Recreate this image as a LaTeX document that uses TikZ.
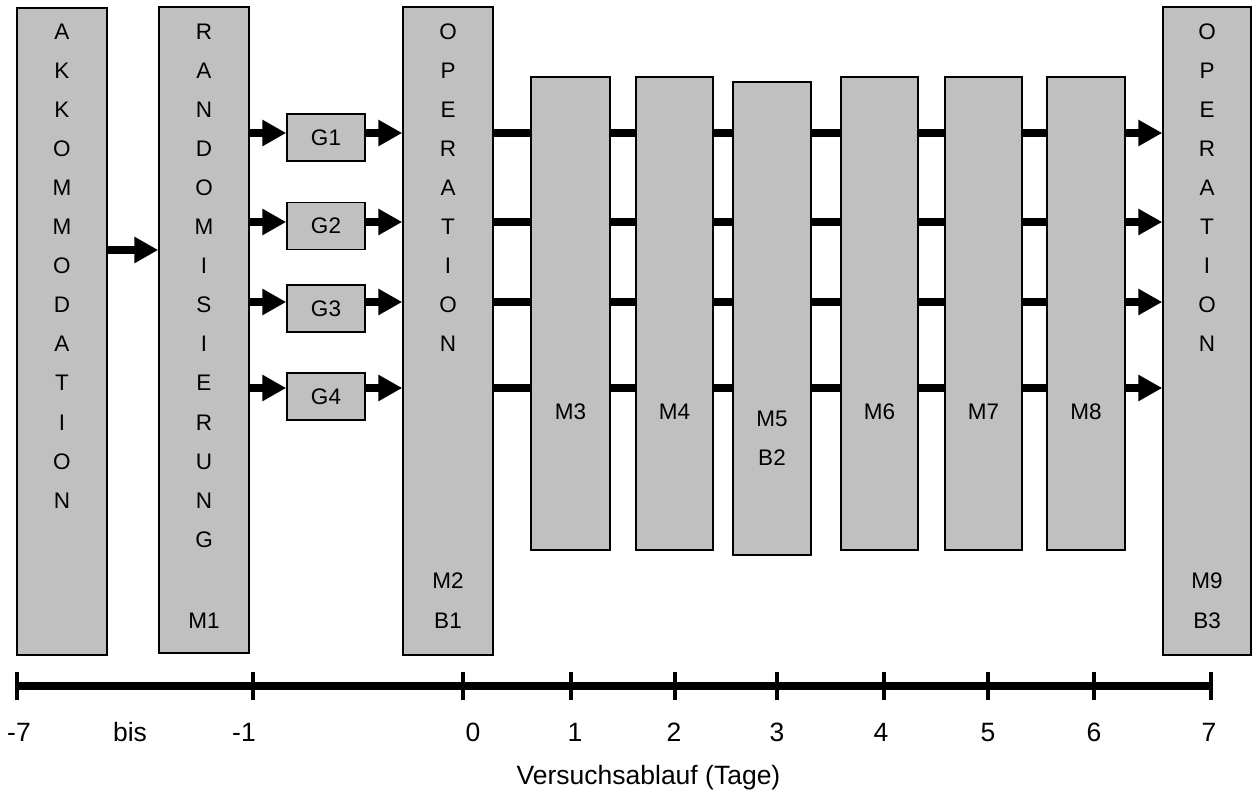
\documentclass[tikz,border=0pt]{standalone}
\usepackage{fontspec}
\setmainfont{Liberation Sans}
\usetikzlibrary{arrows.meta}
\definecolor{boxgray}{RGB}{192,192,192}
\begin{document}
\begin{tikzpicture}[x=1pt,y=-1pt,
  box/.style={draw=black, line width=1.5pt, fill=boxgray, inner sep=0pt},
  lbl/.style={font=\fontsize{22.5}{27}\selectfont, inner sep=0pt, text height=16pt, text depth=0pt},
  axlbl/.style={font=\fontsize{26.5}{31}\selectfont, inner sep=0pt, text height=19pt, text depth=0pt},
  flow/.style={line width=8pt, -{Triangle[length=24pt,width=25pt]}},
  link/.style={line width=8pt},
  tick/.style={line width=4.5pt},
  axis/.style={line width=8pt}]
\useasboundingbox (0,0) rectangle (1253,791);

% tall boxes
\node[box, minimum width=90pt, minimum height=647pt] (akk) at (62,331.5) {};
\node[box, minimum width=90pt, minimum height=646pt] (rand) at (204,330) {};
\node[box, minimum width=90pt, minimum height=648pt] (op1) at (448,331) {};
\node[box, minimum width=88pt, minimum height=648pt] (op2) at (1207,331) {};

% group boxes
\node[box, minimum width=78pt, minimum height=47pt] (g1) at (326,137.5) {};
\node[box, minimum width=78pt, minimum height=47pt] (g2) at (326,226) {};
\node[box, minimum width=78pt, minimum height=47pt] (g3) at (326,308.5) {};
\node[box, minimum width=78pt, minimum height=47pt] (g4) at (326,396.5) {};
\node[lbl] (g1t) at (g1) {G1};
\node[lbl] (g2t) at (g2) {G2};
\node[lbl] (g3t) at (g3) {G3};
\node[lbl] (g4t) at (g4) {G4};

% measurement boxes
\node[box, minimum width=79pt, minimum height=473pt] (m3) at (570.5,313.5) {};
\node[box, minimum width=77pt, minimum height=473pt] (m4) at (674.5,313.5) {};
\node[box, minimum width=78pt, minimum height=473pt] (m5) at (772,318.5) {};
\node[box, minimum width=77pt, minimum height=473pt] (m6) at (879.5,313.5) {};
\node[box, minimum width=77pt, minimum height=473pt] (m7) at (983.5,313.5) {};
\node[box, minimum width=78pt, minimum height=473pt] (m8) at (1086,313.5) {};

% vertical letters
\foreach [count=\i] \l in {A,K,K,O,M,M,O,D,A,T,I,O,N}
  \node[lbl] (akk-\i) at (62,{32+39*(\i-1)}) {\l};
\foreach [count=\i] \l in {R,A,N,D,O,M,I,S,I,E,R,U,N,G}
  \node[lbl] (rand-\i) at (204,{32+39*(\i-1)}) {\l};
\foreach [count=\i] \l in {O,P,E,R,A,T,I,O,N} {
  \node[lbl] (opa-\i) at (448,{32+39*(\i-1)}) {\l};
  \node[lbl] (opb-\i) at (1207,{32+39*(\i-1)}) {\l};
}

% box labels
\node[lbl] (m1t) at (204,620) {M1};
\node[lbl] (m2t) at (448,580) {M2};
\node[lbl] (b1t) at (448,620) {B1};
\node[lbl] (m9t) at (1207,580) {M9};
\node[lbl] (b3t) at (1207,620) {B3};
\node[lbl] (m3t) at (570.5,412) {M3};
\node[lbl] (m4t) at (674.5,412) {M4};
\node[lbl] (m5t) at (772,418) {M5};
\node[lbl] (b2t) at (772,457) {B2};
\node[lbl] (m6t) at (879.5,412) {M6};
\node[lbl] (m7t) at (983.5,412) {M7};
\node[lbl] (m8t) at (1086,412) {M8};

% connectors
\coordinate (r0) at (0,250);
\draw[flow] (akk.east |- r0) -- (rand.west |- r0);
\foreach \g/\y in {g1/133, g2/222, g3/302, g4/388} {
  \coordinate (row-\g) at (0,\y);
  \draw[flow] (rand.east |- row-\g) -- (\g.west |- row-\g);
  \draw[flow] (\g.east |- row-\g) -- (op1.west |- row-\g);
  \draw[link] (op1.east |- row-\g) -- (m3.west |- row-\g);
  \draw[link] (m3.east |- row-\g) -- (m4.west |- row-\g);
  \draw[link] (m4.east |- row-\g) -- (m5.west |- row-\g);
  \draw[link] (m5.east |- row-\g) -- (m6.west |- row-\g);
  \draw[link] (m6.east |- row-\g) -- (m7.west |- row-\g);
  \draw[link] (m7.east |- row-\g) -- (m8.west |- row-\g);
  \draw[flow] (m8.east |- row-\g) -- (op2.west |- row-\g);
}

% time axis
\foreach \n/\x in {a/17, b/253, c/463, d/571, e/675, f/777, g/884, h/988, i/1094, j/1211}
  \coordinate (t\n) at (\x,686);
\draw[axis] (ta) -- (tj);
\foreach \n in {a,b,c,d,e,f,g,h,i,j}
  \draw[tick] ([yshift=-14pt]t\n) -- ([yshift=14pt]t\n);

\node[axlbl] (l-7) at (19,732) {-7};
\node[axlbl] (lbis) at (130,732) {bis};
\node[axlbl] (l-1) at (244,732) {-1};
\node[axlbl] (l0) at (473,732) {0};
\node[axlbl] (l1) at (575,732) {1};
\node[axlbl] (l2) at (674,732) {2};
\node[axlbl] (l3) at (777,732) {3};
\node[axlbl] (l4) at (881,732) {4};
\node[axlbl] (l5) at (988,732) {5};
\node[axlbl] (l6) at (1094,732) {6};
\node[axlbl] (l7) at (1209,732) {7};
\node[axlbl] (title) at (648.5,775) {Versuchsablauf (Tage)};
\end{tikzpicture}
\end{document}
